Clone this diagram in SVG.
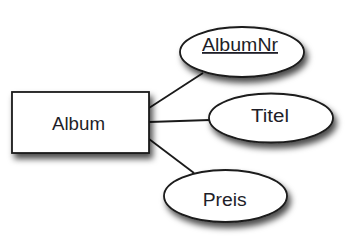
<svg xmlns="http://www.w3.org/2000/svg" width="348" height="250" viewBox="0 0 348 250">
  <defs>
    <filter id="shadow" x="-20%" y="-20%" width="150%" height="170%">
      <feDropShadow dx="3" dy="5" stdDeviation="3" flood-color="#000" flood-opacity="0.7"/>
    </filter>
  </defs>
  <style>
    .shape { fill: #fff; stroke: #1a1a1a; stroke-width: 1.8; filter: url(#shadow); }
    .edge { stroke: #1a1a1a; stroke-width: 1.8; fill: none; }
    .label { font-family: "Liberation Sans", Arial, sans-serif; font-size: 18px; fill: #1e1e28; text-anchor: middle; }
  </style>
  <rect width="348" height="250" fill="#fff"/>

  <!-- connectors from the entity to its attributes -->
  <g id="connectors">
    <line class="edge" x1="149" y1="108" x2="203" y2="73"/>
    <line class="edge" x1="149" y1="122" x2="210" y2="120"/>
    <line class="edge" x1="149" y1="139" x2="194" y2="173"/>
  </g>

  <!-- entity -->
  <g id="album">
    <rect class="shape" x="12" y="92" width="137" height="61"/>
    <text class="label" x="78.5" y="130" textLength="53" lengthAdjust="spacingAndGlyphs">Album</text>
  </g>

  <!-- key attribute -->
  <g id="albumnr">
    <ellipse class="shape" cx="242" cy="52" rx="62" ry="25"/>
    <text class="label" x="240" y="51" font-size="17" textLength="76" lengthAdjust="spacingAndGlyphs" text-decoration="underline">AlbumNr</text>
  </g>

  <g id="titel">
    <ellipse class="shape" cx="271" cy="118" rx="62" ry="24.5"/>
    <text class="label" x="270" y="121.7" textLength="38" lengthAdjust="spacingAndGlyphs">Titel</text>
  </g>

  <g id="preis">
    <ellipse class="shape" cx="225.5" cy="196" rx="61.5" ry="26"/>
    <text class="label" x="224.7" y="205.7" textLength="44" lengthAdjust="spacingAndGlyphs">Preis</text>
  </g>
</svg>
